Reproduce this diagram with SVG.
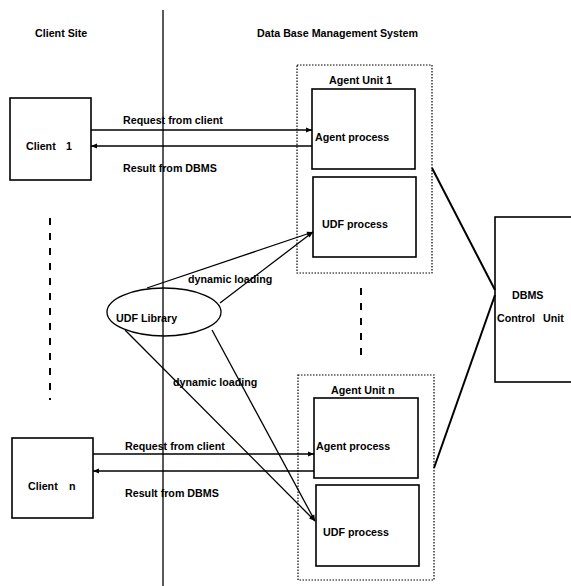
<svg xmlns="http://www.w3.org/2000/svg" width="571" height="586" viewBox="0 0 571 586">
<style>
text{font-family:"Liberation Sans",Arial,sans-serif;font-size:10.7px;font-weight:bold;fill:#000}
.box{fill:none;stroke:#000;stroke-width:1.6}
.unit{fill:none;stroke:#000;stroke-width:1.2;stroke-dasharray:1.5 1.5}
.ln{fill:none;stroke:#000;stroke-width:1.3}
.thick{fill:none;stroke:#000;stroke-width:2}
.dash{fill:none;stroke:#000;stroke-width:2;stroke-dasharray:7 8}
</style>
<defs>
<marker id="ah" viewBox="0 0 10 10" refX="10" refY="5" markerWidth="7" markerHeight="6" orient="auto" markerUnits="userSpaceOnUse">
<path d="M0,1 L10,5 L0,9 z" fill="#000"/>
</marker>
</defs>
<rect width="571" height="586" fill="#fff"/>
<g id="labels">
<text x="35" y="37">Client Site</text>
<text x="257" y="37">Data Base Management System</text>
</g>
<g id="divider"><line class="ln" x1="163" y1="10" x2="163" y2="586"/></g>
<g id="client1"><rect class="box" x="10" y="98" width="81" height="82"/><text x="26" y="150">Client<tspan x="66">1</tspan></text></g>
<g id="clientn"><rect class="box" x="12" y="438" width="81" height="80"/><text x="28" y="490">Client<tspan x="69">n</tspan></text></g>
<g id="agentunit1">
<rect class="unit" x="297" y="65" width="135" height="208"/>
<text x="329" y="84">Agent Unit 1</text>
</g>
<g id="agentprocess1"><rect class="box" x="312" y="89" width="103" height="80"/><text x="315" y="141">Agent process</text></g>
<g id="udfprocess1"><rect class="box" x="313" y="177" width="103" height="80"/><text x="322" y="228">UDF process</text></g>
<g id="agentunitn">
<rect class="unit" x="298" y="375" width="136" height="205"/>
<text x="331" y="394">Agent Unit n</text>
</g>
<g id="agentprocessn"><rect class="box" x="314" y="398" width="104" height="80"/><text x="316" y="450">Agent process</text></g>
<g id="udfprocessn"><rect class="box" x="316" y="485" width="103" height="81"/><text x="323" y="536">UDF process</text></g>
<g id="dbms"><rect class="box" x="495" y="217" width="90" height="165"/><text x="512" y="299">DBMS</text><text x="497" y="322">Control<tspan x="543">Unit</tspan></text></g>
<g id="udflibrary"><ellipse class="ln" cx="164" cy="312" rx="57" ry="24" stroke-width="1.6"/><text x="116" y="322">UDF Library</text></g>
<g id="connectors">
<line class="ln" x1="91" y1="130" x2="312" y2="130" marker-end="url(#ah)"/>
<line class="ln" x1="312" y1="146" x2="91" y2="146" marker-end="url(#ah)"/>
<line class="ln" x1="93" y1="454" x2="314" y2="454" marker-end="url(#ah)"/>
<line class="ln" x1="314" y1="471" x2="93" y2="471" marker-end="url(#ah)"/>
<line class="ln" x1="147" y1="288" x2="313" y2="232" marker-end="url(#ah)"/>
<line class="ln" x1="220" y1="303" x2="313" y2="232" marker-end="url(#ah)"/>
<line class="ln" x1="125" y1="330" x2="315" y2="521" marker-end="url(#ah)"/>
<line class="ln" x1="212" y1="330" x2="315" y2="521" marker-end="url(#ah)"/>
<line class="thick" x1="432" y1="168" x2="495" y2="290"/>
<line class="thick" x1="434" y1="468" x2="495" y2="295"/>
<line class="dash" x1="50" y1="218" x2="50" y2="400"/>
<line class="dash" x1="361" y1="288" x2="361" y2="360"/>
<text x="123" y="124">Request from client</text>
<text x="123" y="172">Result from DBMS</text>
<text x="125" y="450">Request from client</text>
<text x="125" y="497">Result from DBMS</text>
<text x="188" y="283">dynamic loading</text>
<text x="173" y="386">dynamic loading</text>
</g>
</svg>
